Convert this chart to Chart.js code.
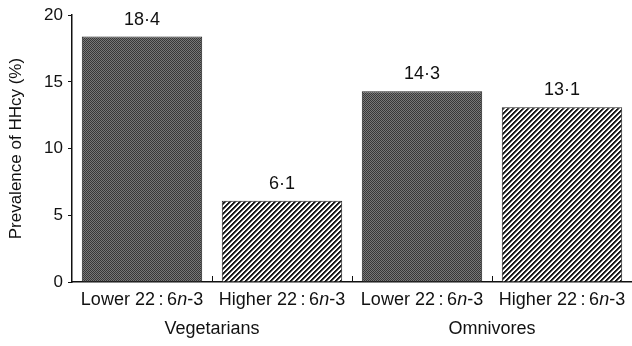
<!DOCTYPE html>
<html>
<head>
<meta charset="utf-8">
<script src="https://cdn.jsdelivr.net/npm/chart.js@4"></script>
<style>
  html, body { margin: 0; padding: 0; background: #fff; }
  #wrap { width: 632px; height: 346px; }
</style>
</head>
<body>
<div id="wrap"><canvas id="chart" width="632" height="346"></canvas></div>
<script>
// data
const categories = ['Lower', 'Higher', 'Lower', 'Higher'];
const groups = ['Vegetarians', 'Omnivores'];
const prevalence = [18.4, 6.1, 14.3, 13.1];
const valueLabels = ['18\u00b74', '6\u00b71', '14\u00b73', '13\u00b71'];
const yTicks = [0, 5, 10, 15, 20];

const FONT = '"Liberation Sans", Arial, sans-serif';

// dark checkered fill
function checkerPattern() {
    const c = document.createElement('canvas');
    c.width = 2; c.height = 2;
    const g = c.getContext('2d');
    g.fillStyle = '#787878'; g.fillRect(0, 0, 2, 2);
    g.fillStyle = '#383838'; g.fillRect(0, 0, 1, 1); g.fillRect(1, 1, 1, 1);
    return g.createPattern(c, 'repeat');
}

// diagonal stripes ////, built pixel by pixel so they stay crisp
function stripePattern() {
    const s = 5;
    const shades = [25, 25, 120, 255, 255];
    const c = document.createElement('canvas');
    c.width = s; c.height = s;
    const g = c.getContext('2d');
    const img = g.createImageData(s, s);
    for (let py = 0; py < s; py++) {
        for (let px = 0; px < s; px++) {
            const v = shades[(px + py) % s];
            const o = (py * s + px) * 4;
            img.data[o] = img.data[o + 1] = img.data[o + 2] = v;
            img.data[o + 3] = 255;
        }
    }
    g.putImageData(img, 0, 0);
    return g.createPattern(c, 'repeat');
}

const fills = [checkerPattern(), stripePattern(), checkerPattern(), stripePattern()];

const annotate = {
    id: 'annotate',
    afterDatasetsDraw(chart) {
        const ctx = chart.ctx;
        const x = chart.scales.x, y = chart.scales.y;
        const meta = chart.getDatasetMeta(0);
        ctx.save();
        ctx.fillStyle = '#111';
        ctx.font = '18px ' + FONT;
        ctx.textAlign = 'center';
        ctx.textBaseline = 'middle';
        meta.data.forEach((bar, i) => {
            ctx.fillText(valueLabels[i], bar.x, bar.y - 17);
        });
        // inner tick marks on the category boundaries
        ctx.strokeStyle = '#111'; ctx.lineWidth = 1;
        for (let i = 0; i < categories.length - 1; i++) {
            const px = Math.round((x.getPixelForValue(i) + x.getPixelForValue(i + 1)) / 2) + 0.5;
            ctx.beginPath(); ctx.moveTo(px, y.bottom); ctx.lineTo(px, y.bottom - 6); ctx.stroke();
        }
        // category labels with italic n
        const ty = y.bottom + 18;
        ctx.textAlign = 'left';
        categories.forEach((lab, i) => {
            const parts = [[lab + ' 22\u2009:\u20096', 'normal'], ['n', 'italic'], ['-3', 'normal']];
            let w = 0;
            parts.forEach(p => { ctx.font = p[1] + ' 18px ' + FONT; w += ctx.measureText(p[0]).width; });
            let cx = x.getPixelForValue(i) - w / 2;
            parts.forEach(p => {
                ctx.font = p[1] + ' 18px ' + FONT;
                ctx.fillText(p[0], cx, ty);
                cx += ctx.measureText(p[0]).width;
            });
        });
        // group labels
        ctx.font = '18px ' + FONT;
        ctx.textAlign = 'center';
        groups.forEach((g, k) => {
            const gx = (x.getPixelForValue(2 * k) + x.getPixelForValue(2 * k + 1)) / 2;
            ctx.fillText(g, gx, y.bottom + 47);
        });
        ctx.restore();
    }
};

new Chart(document.getElementById('chart').getContext('2d'), {
    type: 'bar',
    data: {
        labels: categories.map((c, i) => i),
        datasets: [{
            data: prevalence,
            backgroundColor: fills,
            borderColor: '#222',
            borderWidth: 1,
            categoryPercentage: 0.86,
            barPercentage: 1
        }]
    },
    options: {
        responsive: false,
        animation: false,
        devicePixelRatio: 1,
        layout: { padding: { top: 14, right: 0, bottom: 0, left: 0 } },
        plugins: { legend: { display: false }, tooltip: { enabled: false } },
        scales: {
            x: {
                grid: { display: false, drawTicks: false },
                border: { display: true, color: '#111', width: 1.5 },
                ticks: { display: false },
                afterFit(scale) { scale.height = 64; }
            },
            y: {
                min: 0, max: 20,
                afterBuildTicks(scale) { scale.ticks = yTicks.map(v => ({ value: v })); },
                grid: { drawOnChartArea: false, drawTicks: true, tickLength: 4, color: '#111' },
                border: { display: true, color: '#111', width: 1.5 },
                ticks: { color: '#111', padding: 5, font: { family: FONT, size: 17 } },
                title: {
                    display: true,
                    text: 'Prevalence of HHcy (%)',
                    color: '#111',
                    font: { family: FONT, size: 17 },
                    padding: { top: 6, bottom: 4 }
                },
                afterFit(scale) { scale.width = 72; }
            }
        }
    },
    plugins: [annotate]
});
</script>
</body>
</html>
